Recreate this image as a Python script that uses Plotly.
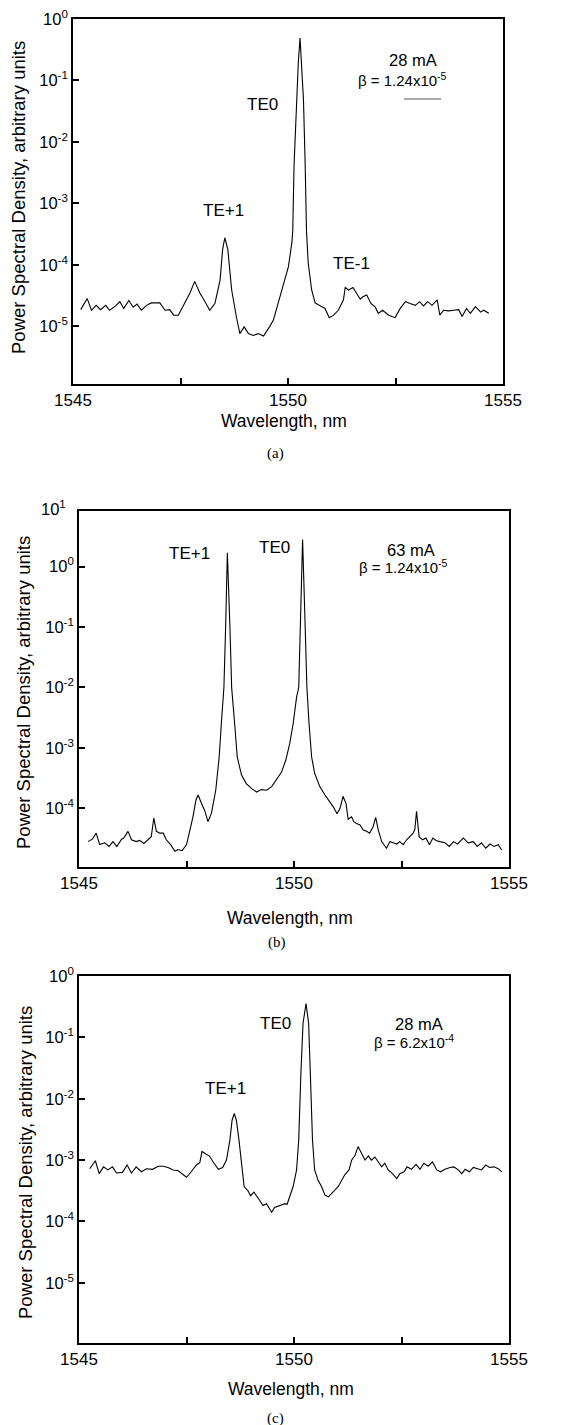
import numpy as np
import plotly.graph_objects as go

# ---------------- data ----------------
# Panel (a): 28 mA, beta = 1.24e-5
wl_a = [1545.18, 1545.33, 1545.43, 1545.54, 1545.64, 1545.76, 1545.85, 1545.97, 1546.09, 1546.18,
        1546.30, 1546.40, 1546.49, 1546.59, 1546.71, 1546.82, 1547.02, 1547.14, 1547.25, 1547.34,
        1547.45, 1547.56, 1547.72, 1547.83, 1547.95, 1548.07, 1548.18, 1548.30, 1548.42, 1548.48,
        1548.53, 1548.60, 1548.69, 1548.80, 1548.88, 1548.98, 1549.08, 1549.19, 1549.31, 1549.43,
        1549.50, 1549.57, 1549.66, 1549.77, 1549.89, 1550.01, 1550.09, 1550.11, 1550.14, 1550.20,
        1550.24, 1550.28, 1550.32, 1550.36, 1550.40, 1550.43, 1550.47, 1550.55, 1550.63, 1550.75,
        1550.86, 1550.96, 1551.06, 1551.17, 1551.29, 1551.33, 1551.41, 1551.51, 1551.60, 1551.68,
        1551.74, 1551.83, 1551.93, 1552.03, 1552.10, 1552.20, 1552.34, 1552.49, 1552.61, 1552.73,
        1552.84, 1552.96, 1553.06, 1553.15, 1553.25, 1553.35, 1553.47, 1553.53, 1553.62, 1553.73,
        1553.85, 1553.97, 1554.05, 1554.15, 1554.24, 1554.36, 1554.48, 1554.55, 1554.67]
log_psd_a = [-4.73, -4.55, -4.74, -4.66, -4.73, -4.66, -4.74, -4.68, -4.60, -4.71,
             -4.58, -4.69, -4.64, -4.74, -4.66, -4.62, -4.62, -4.74, -4.73, -4.82,
             -4.82, -4.68, -4.46, -4.27, -4.46, -4.60, -4.74, -4.63, -4.25, -3.75,
             -3.56, -3.75, -4.41, -4.85, -5.12, -5.01, -5.12, -5.15, -5.12, -5.16,
             -5.09, -5.01, -4.90, -4.63, -4.33, -4.03, -3.64, -3.45, -2.40, -1.32,
             -0.70, -0.31, -0.75, -1.32, -2.39, -3.45, -3.97, -4.41, -4.62, -4.67,
             -4.71, -4.86, -4.82, -4.74, -4.57, -4.37, -4.41, -4.37, -4.46, -4.56,
             -4.52, -4.49, -4.63, -4.69, -4.79, -4.74, -4.82, -4.86, -4.71, -4.60,
             -4.63, -4.66, -4.60, -4.67, -4.60, -4.66, -4.57, -4.82, -4.74, -4.75,
             -4.74, -4.73, -4.84, -4.71, -4.79, -4.68, -4.77, -4.74, -4.79]

# Panel (b): 63 mA, beta = 1.24e-5
wl_b = [1545.21, 1545.31, 1545.40, 1545.48, 1545.60, 1545.70, 1545.79, 1545.88, 1545.99, 1546.04,
        1546.14, 1546.22, 1546.33, 1546.41, 1546.51, 1546.61, 1546.68, 1546.74, 1546.80, 1546.88,
        1546.96, 1547.03, 1547.13, 1547.23, 1547.30, 1547.40, 1547.50, 1547.58, 1547.65, 1547.72,
        1547.77, 1547.85, 1547.92, 1548.00, 1548.08, 1548.18, 1548.26, 1548.31, 1548.37, 1548.41,
        1548.45, 1548.51, 1548.55, 1548.62, 1548.68, 1548.78, 1548.89, 1549.01, 1549.13, 1549.24,
        1549.36, 1549.48, 1549.59, 1549.71, 1549.81, 1549.90, 1549.98, 1550.06, 1550.11, 1550.14,
        1550.20, 1550.26, 1550.30, 1550.35, 1550.41, 1550.48, 1550.60, 1550.72, 1550.83, 1550.91,
        1551.00, 1551.07, 1551.14, 1551.21, 1551.26, 1551.34, 1551.39, 1551.45, 1551.53, 1551.61,
        1551.69, 1551.76, 1551.84, 1551.90, 1551.96, 1552.04, 1552.15, 1552.23, 1552.31, 1552.39,
        1552.46, 1552.54, 1552.62, 1552.70, 1552.77, 1552.81, 1552.85, 1552.91, 1552.99, 1553.07,
        1553.15, 1553.23, 1553.30, 1553.39, 1553.51, 1553.61, 1553.71, 1553.80, 1553.94, 1554.05,
        1554.17, 1554.26, 1554.36, 1554.46, 1554.56, 1554.65, 1554.75, 1554.83]
log_psd_b = [-4.55, -4.51, -4.41, -4.60, -4.57, -4.63, -4.55, -4.63, -4.51, -4.49,
             -4.38, -4.52, -4.55, -4.53, -4.58, -4.52, -4.47, -4.16, -4.38, -4.41,
             -4.41, -4.52, -4.60, -4.71, -4.68, -4.70, -4.60, -4.36, -4.14, -3.86,
             -3.78, -3.92, -4.03, -4.22, -4.08, -3.70, -3.15, -2.60, -2.00, -1.00,
             0.23, -1.00, -2.00, -2.60, -3.15, -3.45, -3.59, -3.67, -3.73, -3.69,
             -3.70, -3.64, -3.53, -3.40, -3.20, -2.93, -2.60, -2.16, -2.00, -1.00,
             0.45, -1.00, -2.00, -2.60, -3.15, -3.42, -3.64, -3.78, -3.89, -3.97,
             -4.09, -4.00, -3.80, -3.92, -4.18, -4.14, -4.22, -4.25, -4.27, -4.36,
             -4.38, -4.41, -4.30, -4.15, -4.36, -4.55, -4.66, -4.55, -4.57, -4.59,
             -4.55, -4.60, -4.52, -4.47, -4.41, -4.35, -4.05, -4.47, -4.52, -4.49,
             -4.60, -4.49, -4.53, -4.55, -4.57, -4.63, -4.55, -4.59, -4.49, -4.57,
             -4.55, -4.63, -4.57, -4.66, -4.59, -4.63, -4.60, -4.69]

# Panel (c): 28 mA, beta = 6.2e-4
wl_c = [1545.25, 1545.38, 1545.47, 1545.57, 1545.67, 1545.78, 1545.87, 1546.01, 1546.12, 1546.22,
        1546.33, 1546.45, 1546.57, 1546.71, 1546.84, 1546.96, 1547.07, 1547.19, 1547.30, 1547.42,
        1547.50, 1547.61, 1547.73, 1547.81, 1547.86, 1547.95, 1548.03, 1548.12, 1548.24, 1548.34,
        1548.43, 1548.51, 1548.56, 1548.61, 1548.66, 1548.72, 1548.78, 1548.84, 1548.93, 1548.99,
        1549.07, 1549.17, 1549.28, 1549.36, 1549.48, 1549.55, 1549.67, 1549.79, 1549.84, 1549.90,
        1549.98, 1550.06, 1550.11, 1550.16, 1550.21, 1550.28, 1550.34, 1550.38, 1550.43, 1550.48,
        1550.56, 1550.64, 1550.72, 1550.80, 1550.87, 1550.95, 1551.03, 1551.11, 1551.18, 1551.28,
        1551.34, 1551.42, 1551.49, 1551.57, 1551.65, 1551.73, 1551.80, 1551.88, 1551.96, 1552.04,
        1552.11, 1552.19, 1552.29, 1552.39, 1552.46, 1552.56, 1552.63, 1552.73, 1552.84, 1552.93,
        1553.02, 1553.12, 1553.22, 1553.32, 1553.41, 1553.51, 1553.63, 1553.72, 1553.82, 1553.90,
        1553.98, 1554.08, 1554.17, 1554.26, 1554.36, 1554.46, 1554.55, 1554.65, 1554.75, 1554.83]
log_psd_c = [-3.14, -3.01, -3.22, -3.11, -3.16, -3.11, -3.21, -3.20, -3.08, -3.21,
             -3.11, -3.19, -3.14, -3.15, -3.10, -3.10, -3.12, -3.16, -3.17, -3.24,
             -3.28, -3.19, -3.08, -3.04, -2.86, -2.90, -2.93, -3.03, -3.15, -3.12,
             -3.00, -2.67, -2.35, -2.24, -2.35, -2.67, -3.11, -3.43, -3.50, -3.58,
             -3.52, -3.63, -3.74, -3.71, -3.85, -3.77, -3.74, -3.71, -3.72, -3.61,
             -3.43, -3.16, -2.67, -1.59, -0.77, -0.45, -0.77, -1.59, -2.67, -3.16,
             -3.33, -3.43, -3.57, -3.60, -3.54, -3.49, -3.43, -3.33, -3.24, -3.16,
             -3.00, -2.92, -2.78, -2.89, -3.00, -2.93, -3.00, -2.95, -3.03, -3.11,
             -3.05, -3.16, -3.22, -3.30, -3.22, -3.19, -3.11, -3.15, -3.07, -3.15,
             -3.05, -3.10, -3.03, -3.16, -3.19, -3.15, -3.12, -3.11, -3.16, -3.22,
             -3.15, -3.19, -3.12, -3.14, -3.16, -3.08, -3.12, -3.11, -3.14, -3.19]

x_major_ticks = [1545, 1550, 1555]
x_major_text = ["1545", "1550", "1555"]
x_minor_ticks = [1547.5, 1552.5]
y_exponents = [1, 0, -1, -2, -3, -4, -5]

# ---------------- figure ----------------
W, H = 582, 1425
FONT = "Liberation Sans, Arial, Helvetica, sans-serif"
SERIF = "Liberation Serif, Times New Roman, serif"


def fx(px):
    return px / W


def fy(py):
    return 1 - py / H


fig = go.Figure()
series = [(wl_a, log_psd_a, "x", "y"), (wl_b, log_psd_b, "x2", "y2"), (wl_c, log_psd_c, "x3", "y3")]
for wl, lg, xa, ya in series:
    fig.add_trace(go.Scatter(x=wl, y=10.0 ** np.array(lg), mode="lines", xaxis=xa, yaxis=ya,
                             line=dict(color="black", width=1.1), showlegend=False,
                             hoverinfo="skip"))

# frames (pixel boxes): left, right, top, bottom, log-range
panels = [
    (73, 503, 19, 384, [-5.94, 0.0]),
    (79, 509, 511, 867, [-4.97, 0.92]),
    (79, 509, 976, 1343, [-5.98, 0.0]),
]

layout = dict(width=W, height=H, autosize=False,
              margin=dict(l=0, r=0, t=0, b=0, pad=0, autoexpand=False),
              paper_bgcolor="white", plot_bgcolor="white", showlegend=False,
              font=dict(family=FONT, color="black", size=16))

yt_vals = [10.0 ** e for e in y_exponents]
yt_text = ["10<sup>%d</sup>" % e for e in y_exponents]

for i, (l, r, t, b, yr) in enumerate(panels):
    sfx = "" if i == 0 else str(i + 1)
    layout["xaxis" + sfx] = dict(
        domain=[fx(l), fx(r)], range=[1545, 1555], anchor="y" + sfx, automargin=False,
        tickmode="array", tickvals=x_major_ticks, ticktext=x_major_text,
        ticks="inside", ticklen=6, tickwidth=1.6, tickcolor="black",
        minor=dict(tickmode="array", tickvals=x_minor_ticks, ticks="inside", ticklen=6,
                   tickwidth=1.6, tickcolor="black", showgrid=False),
        showline=True, linecolor="black", linewidth=1.6, mirror=True,
        showgrid=False, zeroline=False,
        tickfont=dict(family=FONT, size=17, color="black"))
    layout["yaxis" + sfx] = dict(
        domain=[fy(b), fy(t)], type="log", range=yr, anchor="x" + sfx, automargin=False,
        tickmode="array", tickvals=yt_vals, ticktext=yt_text,
        ticks="inside", ticklen=6, tickwidth=1.6, tickcolor="black",
        showline=True, linecolor="black", linewidth=1.6, mirror=True,
        showgrid=False, zeroline=False,
        tickfont=dict(family=FONT, size=16.5, color="black"))

fig.update_layout(**layout)

ann = []


def add_text(text, x, y, size=17, angle=0, family=FONT):
    ann.append(dict(text=text, x=fx(x), y=fy(y), xref="paper", yref="paper",
                    xanchor="center", yanchor="middle", showarrow=False, textangle=angle,
                    font=dict(family=family, size=size, color="black")))


# panel (a)
add_text("TE0", 262, 104)
add_text("TE+1", 223, 210)
add_text("TE-1", 351, 264)
add_text("28 mA", 413, 60, 16.5)
add_text("β = 1.24x10<sup>-5</sup>", 402, 80, 15)
add_text("Wavelength, nm", 284, 421, 17.5)
add_text("(a)", 275, 454, 15, family=SERIF)
add_text("Power Spectral Density, arbitrary units", 19, 198, 18.5, -90)

# panel (b)
add_text("TE+1", 189, 554)
add_text("TE0", 274, 548)
add_text("63 mA", 411, 550, 16.5)
add_text("β = 1.24x10<sup>-5</sup>", 403, 566, 15)
add_text("Wavelength, nm", 290, 918, 17.5)
add_text("(b)", 277, 942, 15, family=SERIF)
add_text("Power Spectral Density, arbitrary units", 23, 693, 18.5, -90)
ann.append(dict(text="10<sup>1</sup>", x=fx(68), y=fy(508), xref="paper", yref="paper",
                xanchor="right", yanchor="middle", showarrow=False,
                font=dict(family=FONT, size=16.5, color="black")))

# panel (c)
add_text("TE0", 275, 1024)
add_text("TE+1", 225, 1088)
add_text("28 mA", 419, 1024, 16.5)
add_text("β = 6.2x10<sup>-4</sup>", 414, 1041, 15)
add_text("Wavelength, nm", 291, 1389, 17.5)
add_text("(c)", 275, 1418, 15, family=SERIF)
add_text("Power Spectral Density, arbitrary units", 25, 1163, 18.5, -90)

fig.update_layout(annotations=ann)

# short underline below the beta label of panel (a)
fig.add_shape(type="line", xref="paper", yref="paper", x0=fx(404), x1=fx(441), y0=fy(99), y1=fy(99),
              line=dict(color="#555555", width=1))

fig.write_html("out.html", config={"displayModeBar": False},
               post_script="document.body.style.margin='0';document.body.style.padding='0';")
